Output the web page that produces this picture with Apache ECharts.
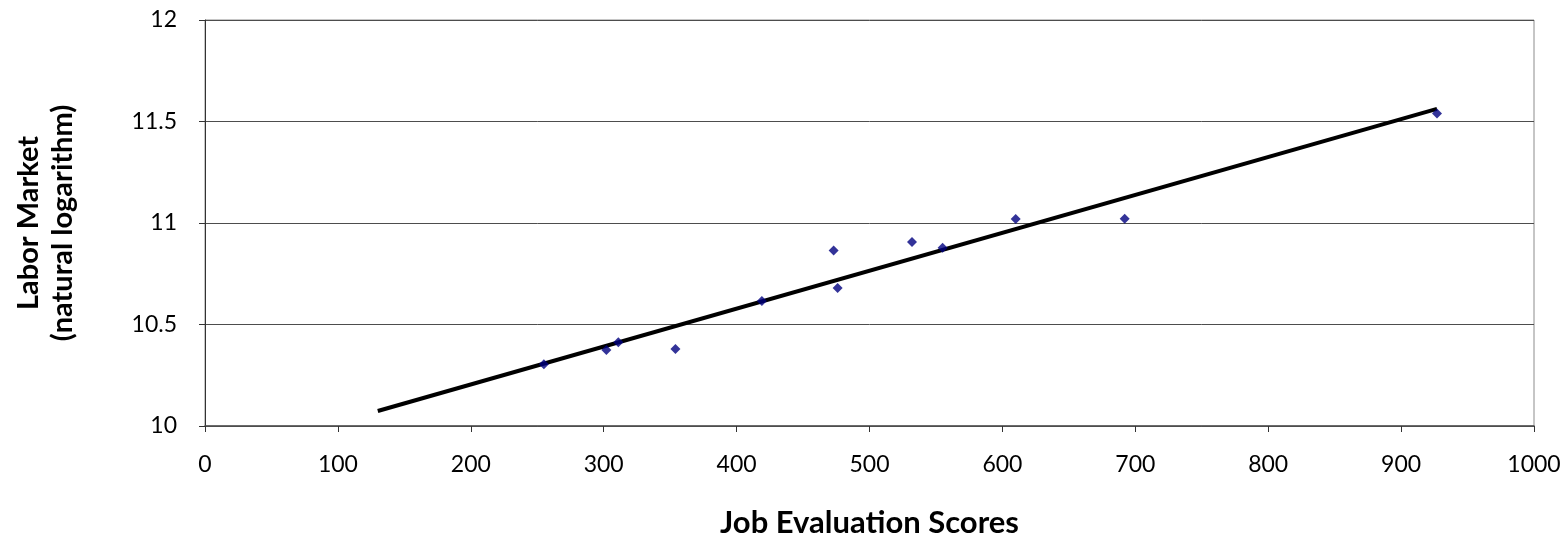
<!DOCTYPE html>
<html>
<head>
<meta charset="utf-8">
<script src="https://cdn.jsdelivr.net/npm/echarts@6/dist/echarts.min.js"></script>
<style>
html,body{margin:0;padding:0;background:#fff;}
#chart{width:1566px;height:538px;}
</style>
</head>
<body>
<div id="chart"></div>
<script>
// Data
const jobScores = [255, 302, 311, 354, 419, 473, 476, 532, 555, 610, 692, 927];
const lnMarket  = [10.304, 10.374, 10.412, 10.379, 10.616, 10.864, 10.680, 10.906, 10.878, 11.020, 11.021, 11.540];
const trendX = [130, 927];
const trendY = [10.074, 11.562];
const xTitle = 'Job Evaluation Scores';
const yTitle = 'Labor Market\n(natural logarithm)';

const points = jobScores.map((x, i) => [x, lnMarket[i]]);
const trend = trendX.map((x, i) => [x, trendY[i]]);
const font = 'Lato, "Open Sans", sans-serif';

const chart = echarts.init(document.getElementById('chart'), null, {renderer: 'canvas'});
chart.setOption({
  animation: false,
  backgroundColor: '#ffffff',
  grid: {left: 205, right: 32, top: 20, bottom: 112, show: true, borderColor: '#8c8c8c', borderWidth: 1,
         containLabel: false, outerBoundsMode: 'none'},
  xAxis: {
    type: 'value', min: 0, max: 1000, interval: 100,
    name: xTitle, nameLocation: 'middle', nameGap: 81,
    nameTextStyle: {fontFamily: font, fontSize: 31, fontWeight: 'bold', color: '#000'},
    axisLine: {show: true, onZero: false, lineStyle: {color: '#4d4d4d', width: 1.5}},
    axisTick: {show: true, length: 6, lineStyle: {color: '#333'}},
    axisLabel: {fontFamily: font, fontSize: 23, color: '#000', margin: 27, formatter: v => String(v)},
    splitLine: {show: false}
  },
  yAxis: {
    type: 'value', min: 10, max: 12, interval: 0.5,
    name: yTitle, nameLocation: 'middle', nameGap: 125, nameRotate: 90,
    nameTextStyle: {fontFamily: font, fontSize: 29, fontWeight: 'bold', color: '#000', lineHeight: 34},
    axisLine: {show: true, lineStyle: {color: '#333', width: 1}},
    axisTick: {show: true, length: 6, lineStyle: {color: '#333'}},
    axisLabel: {fontFamily: font, fontSize: 23, color: '#000', margin: 28, formatter: v => String(v)},
    splitLine: {show: true, lineStyle: {color: '#4d4d4d', width: 1}}
  },
  series: [
    {
      type: 'line', data: trend, symbol: 'none', z: 2,
      lineStyle: {color: '#000', width: 4}
    },
    {
      type: 'scatter', data: points, symbol: 'diamond', symbolSize: 10, z: 3,
      itemStyle: {color: '#000080'}
    }
  ]
});
</script>
</body>
</html>
